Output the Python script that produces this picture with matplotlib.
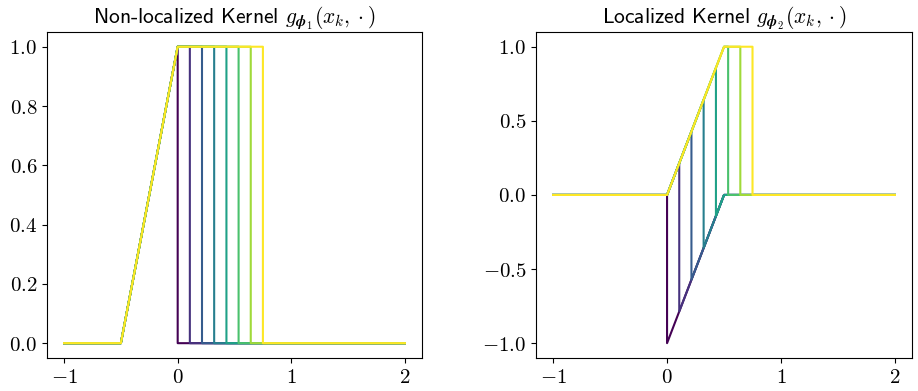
import numpy as np
import matplotlib
matplotlib.use('Agg')
from matplotlib import pyplot as plt
from matplotlib.ticker import FormatStrFormatter

plt.rcParams['mathtext.fontset'] = 'cm'
plt.rcParams['font.family'] = ['cmss10', 'DejaVu Sans']

# knot position x_k of each curve
xk = [0.0, 0.107, 0.214, 0.321, 0.429, 0.536, 0.643, 0.75]

# non-localized kernel: vertices of each curve
left_x = [[-1, -0.5, 0, 0, 2],
          [-1, -0.5, 0, 0.107, 0.107, 2],
          [-1, -0.5, 0, 0.214, 0.214, 2],
          [-1, -0.5, 0, 0.321, 0.321, 2],
          [-1, -0.5, 0, 0.429, 0.429, 2],
          [-1, -0.5, 0, 0.536, 0.536, 2],
          [-1, -0.5, 0, 0.643, 0.643, 2],
          [-1, -0.5, 0, 0.75, 0.75, 2]]
left_y = [[0, 0, 1, 0, 0]] + [[0, 0, 1, 1, 0, 0]] * 7

# localized kernel: vertices of each curve
right_x = [[-1, 0, 0, 0.5, 2],
           [-1, 0, 0.107, 0.107, 0.5, 2],
           [-1, 0, 0.214, 0.214, 0.5, 2],
           [-1, 0, 0.321, 0.321, 0.5, 2],
           [-1, 0, 0.429, 0.429, 0.5, 2],
           [-1, 0, 0.5, 0.536, 0.536, 2],
           [-1, 0, 0.5, 0.643, 0.643, 2],
           [-1, 0, 0.5, 0.75, 0.75, 2]]
right_y = [[0, 0, -1, 0, 0],
           [0, 0, 0.214, -0.786, 0, 0],
           [0, 0, 0.429, -0.571, 0, 0],
           [0, 0, 0.643, -0.357, 0, 0],
           [0, 0, 0.857, -0.143, 0, 0],
           [0, 0, 1, 1, 0, 0],
           [0, 0, 1, 1, 0, 0],
           [0, 0, 1, 1, 0, 0]]

f = plt.figure(figsize=(9.18, 3.91), dpi=100)
ax1 = f.add_axes([0.0512, 0.0844, 0.4085, 0.834])
ax2 = f.add_axes([0.5839, 0.0844, 0.4096, 0.834])
cols = plt.cm.viridis(np.linspace(0, 1, len(xk)))

for k in range(len(xk)):
    ax1.plot(left_x[k], left_y[k], color=cols[k], lw=1.5)
    ax2.plot(right_x[k], right_y[k], color=cols[k], lw=1.5)

ax1.set_title(r'Non-localized Kernel $g_{\boldsymbol{\phi}_1}(x_k,\cdot)$', fontsize=15.5)
ax2.set_title(r'Localized Kernel $g_{\boldsymbol{\phi}_2}(x_k,\cdot)$', fontsize=15.5)
ax1.set_yticks([0, 0.2, 0.4, 0.6, 0.8, 1.0])
ax2.set_yticks([-1.0, -0.5, 0.0, 0.5, 1.0])
for ax in (ax1, ax2):
    ax.set_xticks([-1, 0, 1, 2])
    ax.xaxis.set_major_formatter(FormatStrFormatter('$%d$'))
    ax.yaxis.set_major_formatter(FormatStrFormatter('$%.1f$'))
    ax.tick_params(labelsize=15)

plt.savefig('out.png', dpi=100)
